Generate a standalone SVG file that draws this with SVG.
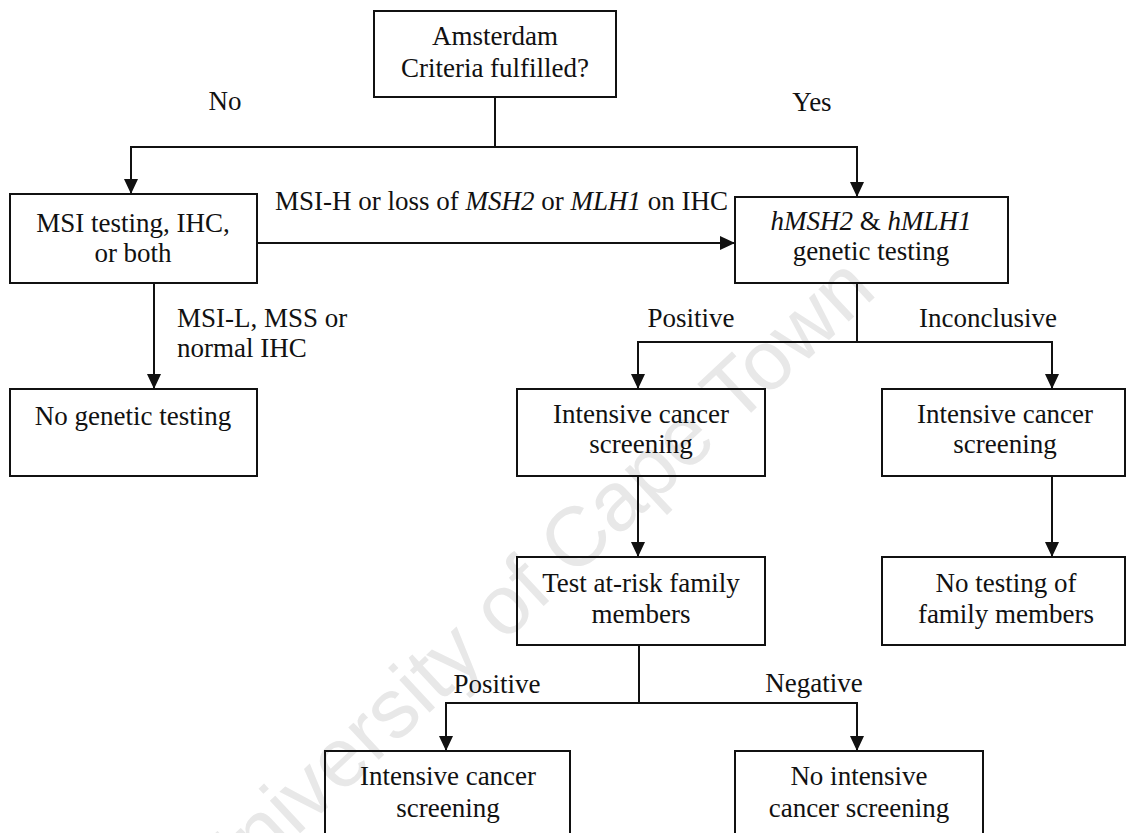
<svg xmlns="http://www.w3.org/2000/svg" width="1127" height="833" viewBox="0 0 1127 833">
<defs>
<style>
.bg{fill:#ffffff}
.box{fill:none;stroke:#111;stroke-width:2}
.con{fill:none;stroke:#111;stroke-width:2}
.arr{fill:none;stroke:#111;stroke-width:2;marker-end:url(#ah)}
text{font-family:"Liberation Serif","Times New Roman",serif;font-size:27px;fill:#111}
.c{text-anchor:middle}
.i{font-style:italic}
.wm{font-family:"Liberation Sans",Arial,sans-serif;font-size:84px;fill:#e8e8e8;text-anchor:middle}
</style>
<marker id="ah" markerUnits="userSpaceOnUse" markerWidth="15" markerHeight="14" viewBox="0 0 15 14" refX="15" refY="7" orient="auto">
<path d="M0,0 L15,7 L0,14 z" fill="#111"/>
</marker>
</defs>
<rect class="bg" x="0" y="0" width="1127" height="833"/>
<text class="wm" x="548" y="602" transform="rotate(-43 548 602)">University of Cape Town</text>

<g id="connectors">
<path class="con" d="M495,97 V147"/>
<path class="arr" d="M495,147 H131 V194"/>
<path class="arr" d="M495,147 H857 V197"/>
<path class="arr" d="M257,243 H735"/>
<path class="arr" d="M154,283 V389"/>
<path class="con" d="M857,283 V342"/>
<path class="arr" d="M857,342 H638 V389"/>
<path class="arr" d="M857,342 H1052 V389"/>
<path class="arr" d="M638,476 V557"/>
<path class="arr" d="M1052,476 V557"/>
<path class="con" d="M639,645 V703"/>
<path class="arr" d="M639,703 H446 V751"/>
<path class="arr" d="M639,703 H857 V751"/>
</g>

<g id="labels">
<text class="c" x="225" y="110">No</text>
<text class="c" x="812" y="111">Yes</text>
<text x="275" y="210">MSI-H or loss of <tspan class="i">MSH2</tspan> or <tspan class="i">MLH1</tspan> on IHC</text>
<text x="177" y="327">MSI-L, MSS or</text>
<text x="177" y="357">normal IHC</text>
<text class="c" x="691" y="327">Positive</text>
<text class="c" x="988" y="327">Inconclusive</text>
<text class="c" x="497" y="693">Positive</text>
<text class="c" x="814" y="692">Negative</text>
</g>

<g id="amsterdam">
<rect class="box" x="374" y="11" width="242" height="86"/>
<text class="c" x="495" y="45">Amsterdam</text>
<text class="c" x="495" y="77">Criteria fulfilled?</text>
</g>

<g id="msi-testing">
<rect class="box" x="10" y="194" width="247" height="89"/>
<text class="c" x="133" y="232">MSI testing, IHC,</text>
<text class="c" x="133" y="262">or both</text>
</g>

<g id="genetic-testing">
<rect class="box" x="735" y="197" width="273" height="86"/>
<text class="c" x="871" y="230"><tspan class="i">hMSH2</tspan> &amp; <tspan class="i">hMLH1</tspan></text>
<text class="c" x="871" y="260">genetic testing</text>
</g>

<g id="no-genetic-testing">
<rect class="box" x="10" y="389" width="247" height="87"/>
<text class="c" x="133" y="425">No genetic testing</text>
</g>

<g id="screening-positive">
<rect class="box" x="517" y="389" width="248" height="87"/>
<text class="c" x="641" y="423">Intensive cancer</text>
<text class="c" x="641" y="453">screening</text>
</g>

<g id="screening-inconclusive">
<rect class="box" x="882" y="389" width="243" height="87"/>
<text class="c" x="1005" y="423">Intensive cancer</text>
<text class="c" x="1005" y="453">screening</text>
</g>

<g id="test-family">
<rect class="box" x="517" y="557" width="248" height="88"/>
<text class="c" x="641" y="592">Test at-risk family</text>
<text class="c" x="641" y="623">members</text>
</g>

<g id="no-testing-family">
<rect class="box" x="882" y="557" width="243" height="88"/>
<text class="c" x="1006" y="592">No testing of</text>
<text class="c" x="1006" y="623">family members</text>
</g>

<g id="screening-family-positive">
<rect class="box" x="325" y="751" width="245" height="100"/>
<text class="c" x="448" y="785">Intensive cancer</text>
<text class="c" x="448" y="817">screening</text>
</g>

<g id="no-screening-family-negative">
<rect class="box" x="735" y="751" width="248" height="100"/>
<text class="c" x="859" y="785">No intensive</text>
<text class="c" x="859" y="817">cancer screening</text>
</g>
</svg>
